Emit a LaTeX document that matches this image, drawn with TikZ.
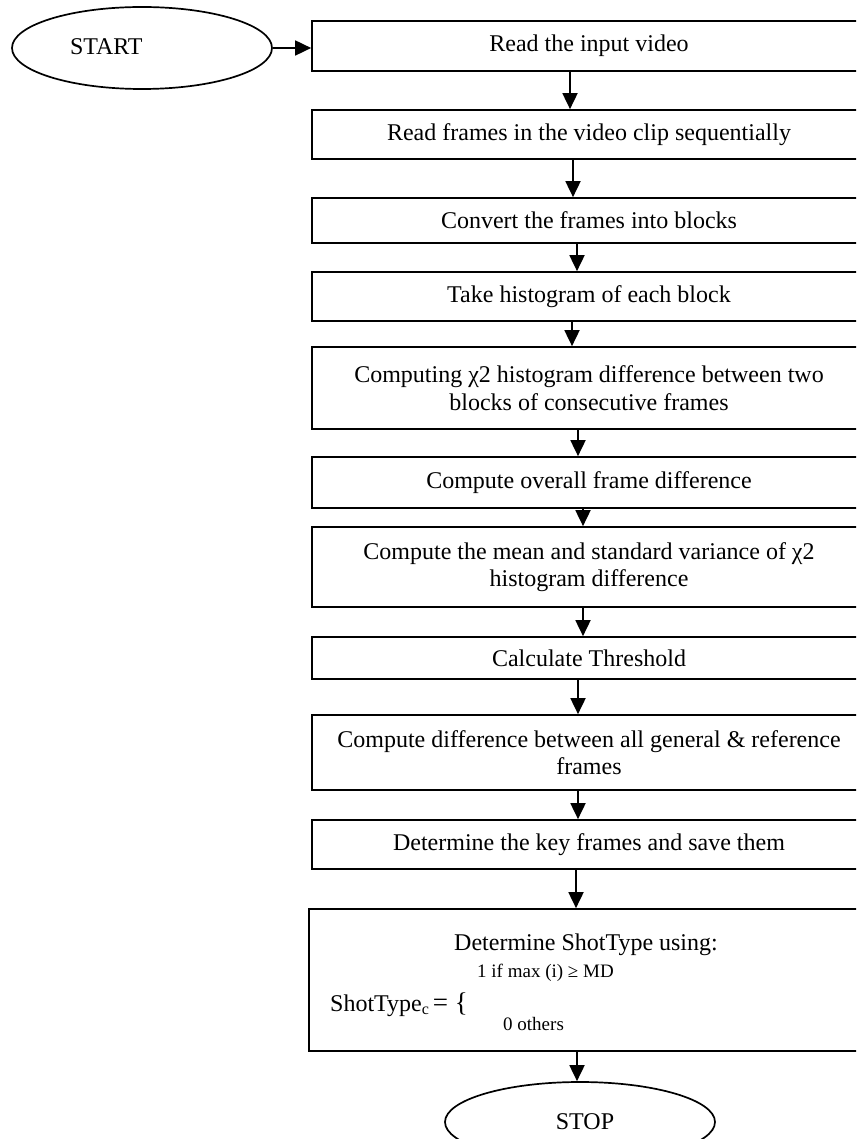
\documentclass[tikz,border=0pt]{standalone}
\usepackage{fontspec}
\setmainfont{Liberation Serif}
\usetikzlibrary{arrows.meta,shapes.geometric}
\tikzset{
  bigfont/.style={font=\fontsize{24}{27.6}\selectfont},
  smallfont/.style={font=\fontsize{19}{22}\selectfont},
  procbox/.style={draw=black, line width=1.7pt, rectangle, bigfont, align=center,
    minimum width=554pt, inner sep=2pt},
  terminal/.style={draw=black, line width=1.7pt, ellipse, bigfont, inner sep=0pt},
  arr/.style={line width=1.8pt, -{Triangle[width=15pt,length=16pt]}},
  plain/.style={inner sep=0pt},
}
\begin{document}
\begin{tikzpicture}[x=1pt,y=-1pt]
\path[use as bounding box] (0,0) rectangle (856,1139);
\clip (0,0) rectangle (856,1139);

\node[terminal, minimum width=260pt, minimum height=82pt] (start) at (142,48) {\raisebox{2pt}{\makebox[144pt][l]{START}}};

\node[procbox, minimum height=50pt] (b1) at (589,46) {Read the input video};
\node[procbox, minimum height=49pt] (b2) at (589,134.5) {Read frames in the video clip sequentially};
\node[procbox, minimum height=45pt] (b3) at (589,220.5) {Convert the frames into blocks};
\node[procbox, minimum height=49pt] (b4) at (589,296.5) {Take histogram of each block};
\node[procbox, minimum height=82pt] (b5) at (589,388) {Computing χ2 histogram difference between two\\blocks of consecutive frames};
\node[procbox, minimum height=51pt] (b6) at (589,482.5) {Compute overall frame difference};
\node[procbox, minimum height=80pt] (b7) at (589,567) {Compute the mean and standard variance of χ2\\histogram difference};
\node[procbox, minimum height=42pt] (b8) at (589,658) {Calculate Threshold};
\node[procbox, minimum height=75pt] (b9) at (589,752.5) {Compute difference between all general \& reference\\frames};
\node[procbox, minimum height=49pt] (b10) at (589,844.5) {Determine the key frames and save them};
\node[procbox, minimum height=142pt, minimum width=558pt] (b11) at (588,980) {};

\node[plain, bigfont, anchor=base] (t11a) at (586,950) {Determine ShotType using:};
\node[plain, smallfont, anchor=base west] (t11b) at (477,977) {1 if max (i) ≥ MD};
\node[plain, bigfont, anchor=base west] (t11c) at (330,1011) {ShotType\raisebox{-3pt}{\fontsize{16}{16}\selectfont c}\,{\fontsize{27}{27}\selectfont = \{}};
\node[plain, smallfont, anchor=base west] (t11d) at (503,1030) {0 others};

\node[terminal, minimum width=270pt, minimum height=80pt] (stop) at (580,1122) {\makebox[10pt][r]{}STOP};

\draw[arr] (start.east) -- (start.east -| b1.west);
\draw[arr] ([xshift=-19pt]b1.south) -- ([xshift=-19pt]b2.north);
\draw[arr] ([xshift=-16pt]b2.south) -- ([xshift=-16pt]b3.north);
\draw[arr] ([xshift=-12pt]b3.south) -- ([xshift=-12pt]b4.north);
\draw[arr] ([xshift=-17pt]b4.south) -- ([xshift=-17pt]b5.north);
\draw[arr] ([xshift=-11pt]b5.south) -- ([xshift=-11pt]b6.north);
\draw[arr] ([xshift=-6pt]b6.south) -- ([xshift=-6pt]b7.north);
\draw[arr] ([xshift=-6pt]b7.south) -- ([xshift=-6pt]b8.north);
\draw[arr] ([xshift=-11pt]b8.south) -- ([xshift=-11pt]b9.north);
\draw[arr] ([xshift=-11pt]b9.south) -- ([xshift=-11pt]b10.north);
\draw[arr] ([xshift=-13pt]b10.south) -- ([xshift=-12pt]b11.north);
\draw[arr] ([xshift=-11pt]b11.south) -- ([xshift=-3pt]stop.north);
\end{tikzpicture}
\end{document}
